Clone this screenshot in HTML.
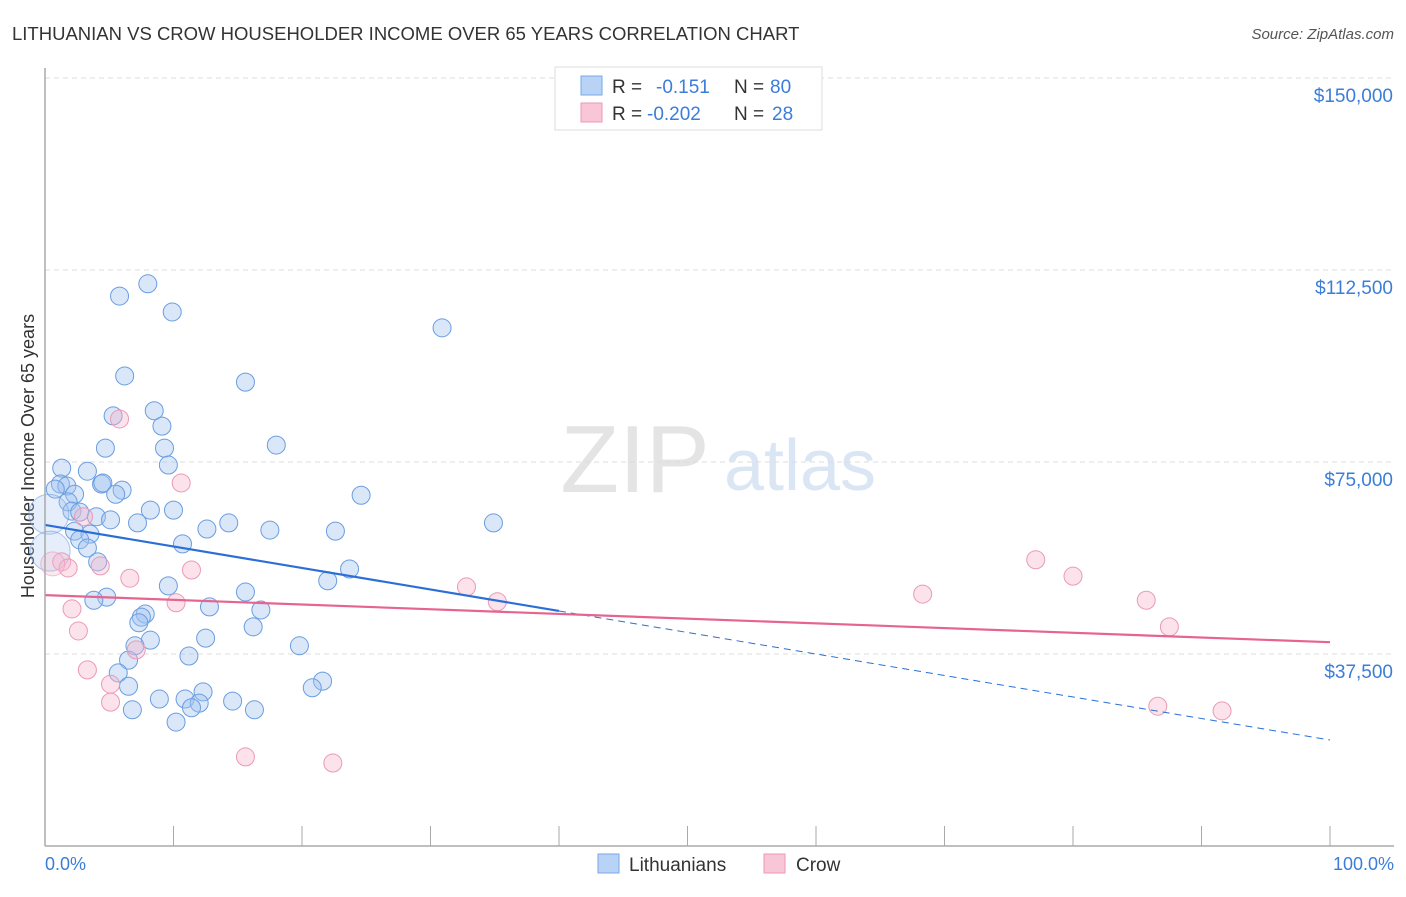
<!DOCTYPE html>
<html><head><meta charset="utf-8"><style>
body{margin:0;background:#fff;font-family:"Liberation Sans",sans-serif;}
svg text{font-family:"Liberation Sans",sans-serif;}
</style></head><body>
<svg id="chart" width="1406" height="892" viewBox="0 0 1406 892">
<text x="12" y="40" font-size="18.5" fill="#333">LITHUANIAN VS CROW HOUSEHOLDER INCOME OVER 65 YEARS CORRELATION CHART</text>
<text x="1394" y="39" font-size="15" fill="#555" font-style="italic" text-anchor="end">Source: ZipAtlas.com</text>
<text x="635" y="492" font-size="96" fill="#e4e4e4" font-family="Liberation Serif" text-anchor="middle">ZIP</text>
<text x="800" y="490" font-size="72" fill="#dbe6f5" text-anchor="middle">atlas</text>
<text transform="translate(34,456) rotate(-90)" font-size="18" fill="#333" text-anchor="middle">Householder Income Over 65 years</text>
<g id="grid"></g><g id="ticks"></g><g id="marks"></g>
<line x1="45" y1="68" x2="45" y2="846" stroke="#aaa" stroke-width="1.5"/>
<line x1="45" y1="846" x2="1394" y2="846" stroke="#aaa" stroke-width="1.5"/>
<text x="45" y="870" font-size="18" fill="#3b7dd8">0.0%</text>
<text x="1394" y="870" font-size="18" fill="#3b7dd8" text-anchor="end">100.0%</text>
<g>
<rect x="555" y="67" width="267" height="63" fill="#fff" stroke="#ddd"/>
<rect x="581" y="76" width="21" height="19" fill="#b8d3f5" stroke="#7aaae8"/>
<rect x="581" y="103" width="21" height="19" fill="#f8c6d6" stroke="#eb9ab5"/>
<text x="612" y="93" font-size="19" fill="#333">R =</text>
<text x="656" y="93" font-size="19" fill="#3b7dd8">-0.151</text>
<text x="734" y="93" font-size="19" fill="#333">N =</text>
<text x="770" y="93" font-size="19" fill="#3b7dd8">80</text>
<text x="612" y="120" font-size="19" fill="#333">R =</text>
<text x="647" y="120" font-size="19" fill="#3b7dd8">-0.202</text>
<text x="734" y="120" font-size="19" fill="#333">N =</text>
<text x="772" y="120" font-size="19" fill="#3b7dd8">28</text>
</g>
<g>
<rect x="598" y="854" width="21" height="19" fill="#b8d3f5" stroke="#7aaae8"/>
<text x="629" y="871" font-size="19" fill="#333">Lithuanians</text>
<rect x="764" y="854" width="21" height="19" fill="#f8c6d6" stroke="#eb9ab5"/>
<text x="796" y="871" font-size="19" fill="#333">Crow</text>
</g>
</svg>
<script>
const yTicks=[37500,75000,112500,150000];
const yTickLabels=["$37,500","$75,000","$112,500","$150,000"];
const xTicks=[0,10,20,30,40,50,60,70,80,90,100];
const blueX=[8.0,5.8,9.9,30.9,6.2,15.6,8.5,5.3,9.1,18.0,4.7,9.3,9.6,1.3,3.3,1.2,1.7,0.8,4.4,4.5,6.0,5.5,2.3,24.6,1.8,2.1,2.7,4.0,5.1,8.2,10.0,7.2,14.3,12.6,17.5,22.6,34.9,2.3,3.5,2.7,3.3,10.7,4.1,23.7,22.0,9.6,15.6,4.8,3.8,12.8,16.8,7.8,7.5,7.3,16.2,8.2,12.5,7.0,19.8,6.5,11.2,5.7,21.6,20.8,6.5,8.9,10.9,12.3,12.0,11.4,14.6,6.8,16.3,10.2,0.3,0.4];
const blueY=[109.8,107.4,104.3,101.2,91.8,90.6,85.0,84.0,82.0,78.3,77.7,77.7,74.4,73.8,73.2,70.7,70.3,69.7,70.7,70.9,69.5,68.7,68.7,68.5,67.2,65.4,65.2,64.3,63.7,65.6,65.6,63.1,63.1,61.9,61.7,61.5,63.1,61.5,60.9,59.8,58.2,59.0,55.5,54.1,51.8,50.8,49.6,48.6,48.0,46.7,46.1,45.3,44.7,43.6,42.8,40.2,40.6,39.1,39.1,36.3,37.1,33.8,32.2,30.9,31.2,28.7,28.7,30.1,27.9,27.0,28.3,26.6,26.6,24.2,64.8,57.6];
const pinkX=[5.8,10.6,3.0,1.3,1.8,4.3,11.4,6.6,32.8,10.2,35.2,2.1,2.6,7.1,3.3,5.1,5.1,15.6,22.4,77.1,80.0,68.3,85.7,87.5,86.6,91.6,0.6];
const pinkY=[83.4,70.9,64.3,55.5,54.3,54.7,53.9,52.3,50.6,47.5,47.7,46.3,42.0,38.3,34.4,31.6,28.1,17.4,16.2,55.9,52.7,49.2,48.0,42.8,27.3,26.4,55.1];
const blueTrend=[62.7,20.7];
const blueSolidEnd=40;
const pinkTrend=[49.0,39.8];
const NS="http://www.w3.org/2000/svg";
const xs=p=>45+p*12.85;
const ys=v=>846-v/0.1953;
function mk(tag,attrs,parent){const e=document.createElementNS(NS,tag);for(const k in attrs)e.setAttribute(k,attrs[k]);document.getElementById(parent).appendChild(e);return e;}
yTicks.forEach((t,i)=>{
  const l=mk('line',{x1:45,x2:1394,y1:ys(t/1000),y2:ys(t/1000),stroke:'#ddd','stroke-dasharray':'5,4'},'grid');
  
  
  const tx=mk('text',{x:1393,y:ys(t/1000)+24,'font-size':19,fill:'#3b7dd8','text-anchor':'end'},'ticks');
  tx.textContent=yTickLabels[i];
  
  
});
const tg=mk('line',{x1:45,x2:1394,y1:78,y2:78,stroke:'#ddd','stroke-dasharray':'5,4'},'grid');


xTicks.forEach(t=>{
  const l=mk('line',{x1:xs(t),x2:xs(t),y1:826,y2:846,stroke:'#aaa'},'ticks');
  
  
});
blueX.forEach((x,i)=>{
  const big=i>=blueX.length-2;
  const c=mk('circle',{cx:xs(x),cy:ys(blueY[i]),r:big?20:9,fill:big?'rgba(170,200,240,0.3)':'rgba(160,196,240,0.4)',stroke:big?'rgba(91,147,222,0.5)':'#6a9de0','stroke-width':1},'marks');
  
  
});
pinkX.forEach((x,i)=>{
  const big=i==pinkX.length-1;
  const c=mk('circle',{cx:xs(x),cy:ys(pinkY[i]),r:big?12:9,fill:big?'rgba(246,182,204,0.3)':'rgba(246,182,204,0.4)',stroke:big?'rgba(233,143,176,0.5)':'#eb9ab5','stroke-width':1},'marks');
  
  
});
const bAt=p=>blueTrend[0]+(blueTrend[1]-blueTrend[0])*p/100;
const b1=mk('line',{x1:xs(0),y1:ys(bAt(0)),x2:xs(blueSolidEnd),y2:ys(bAt(blueSolidEnd)),stroke:'#2a6fd6','stroke-width':2.2},'marks');


const b2=mk('line',{x1:xs(blueSolidEnd),y1:ys(bAt(blueSolidEnd)),x2:xs(100),y2:ys(bAt(100)),stroke:'#2a6fd6','stroke-width':1,'stroke-dasharray':'7,5'},'marks');


const p1=mk('line',{x1:xs(0),y1:ys(pinkTrend[0]),x2:xs(100),y2:ys(pinkTrend[1]),stroke:'#e56490','stroke-width':2.2},'marks');


</script>
</body></html>
